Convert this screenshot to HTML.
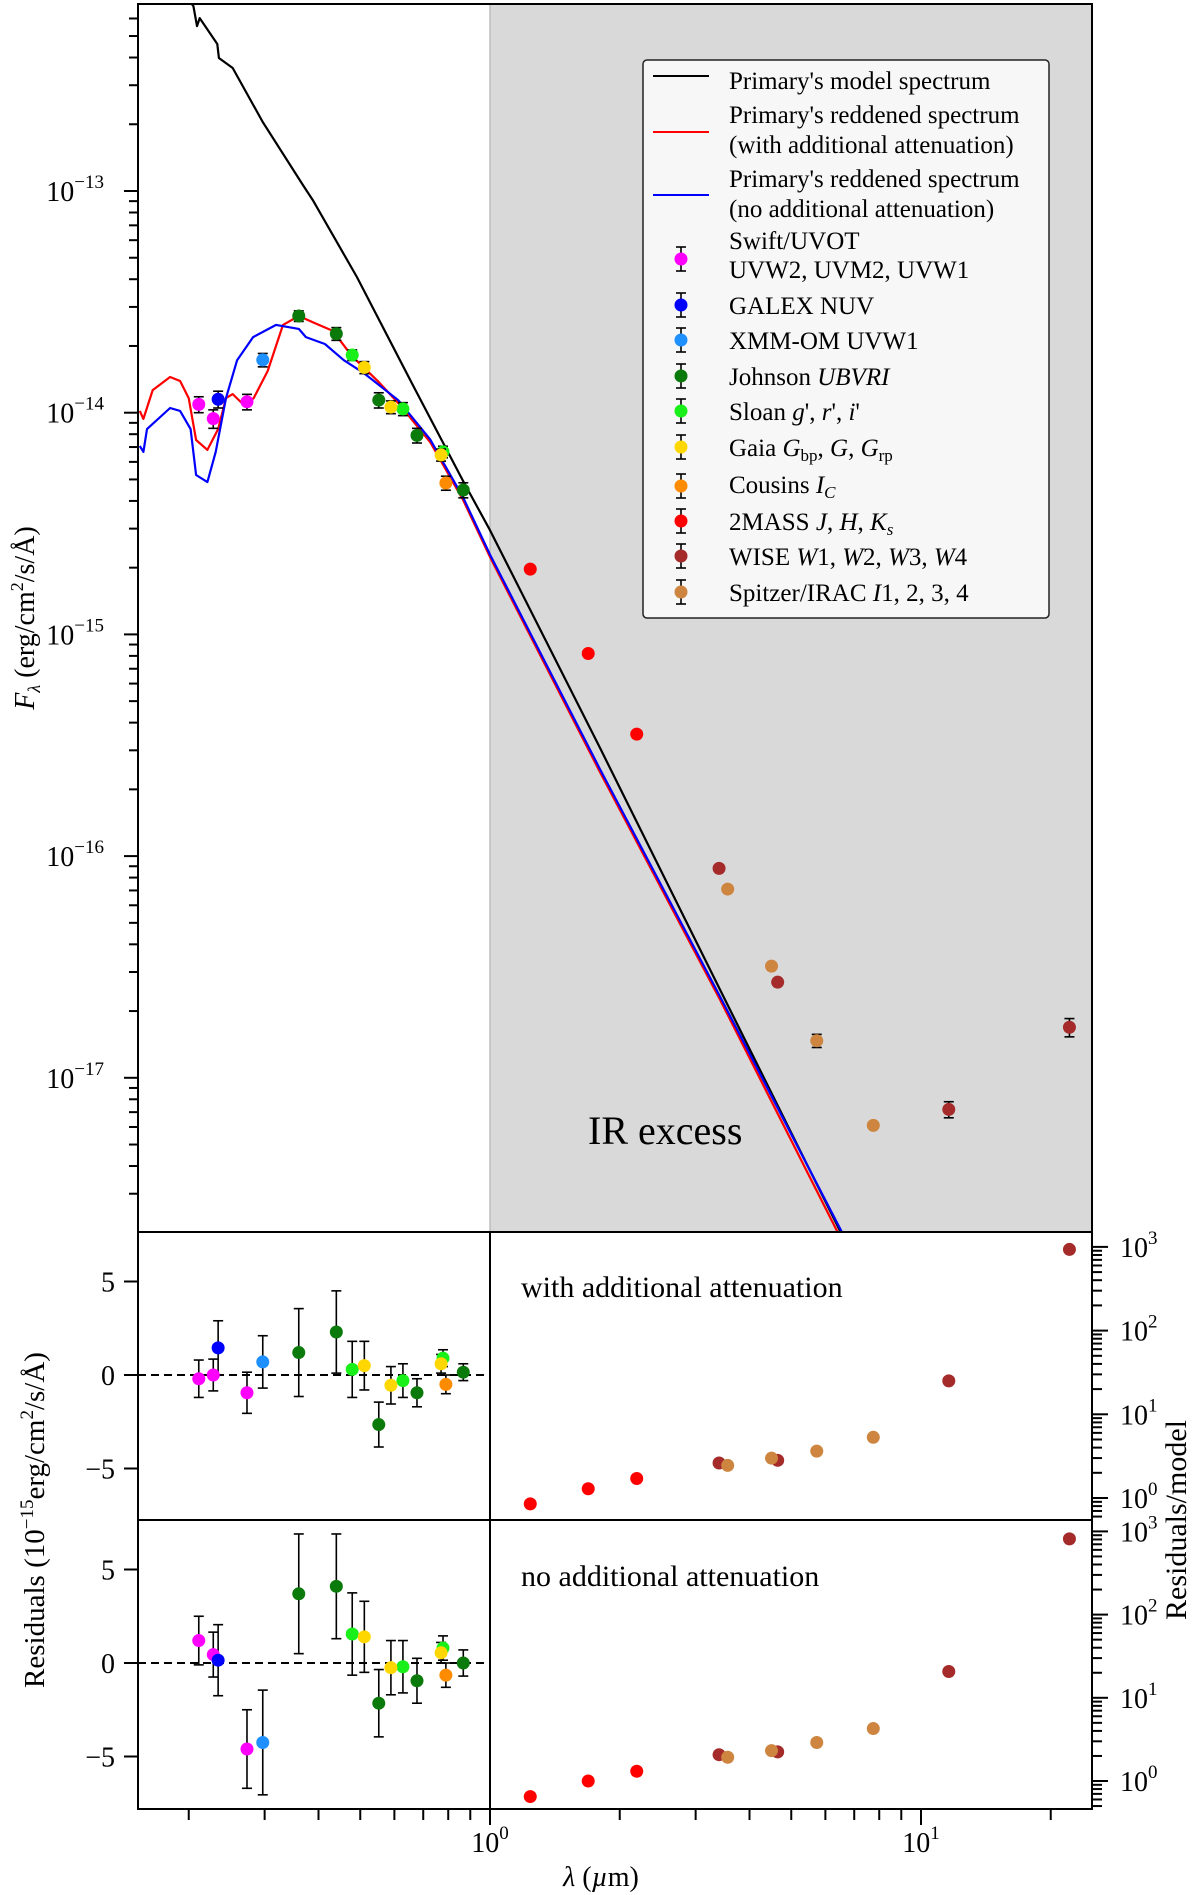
<!DOCTYPE html>
<html><head><meta charset="utf-8"><title>SED</title>
<style>
html,body{margin:0;padding:0;background:#fff;}
svg{display:block;font-family:"Liberation Serif",serif;}
</style></head>
<body>
<svg id="fig" width="1200" height="1895" viewBox="0 0 1200 1895" xmlns="http://www.w3.org/2000/svg">
<defs>
<clipPath id="clipTop"><rect x="138" y="4" width="954" height="1228"/></clipPath>
</defs>
<rect x="0" y="0" width="1200" height="1895" fill="#fff"/>
<rect x="490" y="4" width="602" height="1228" fill="#d9d9d9"/>
<line x1="490" y1="4" x2="490" y2="1232" stroke="#bdbdbd" stroke-width="1.5"/>
<g id="marks"></g>
<text x="588" y="1144" font-size="40">IR excess</text>
<text x="521" y="1297" font-size="30">with additional attenuation</text>
<text x="521" y="1586" font-size="30">no additional attenuation</text>
<text transform="translate(34,618) rotate(-90)" text-anchor="middle" font-size="28"><tspan font-style="italic">F</tspan><tspan font-style="italic" font-size="18" dy="6">λ</tspan><tspan dy="-6"> (erg/cm</tspan><tspan font-size="18" dy="-11">2</tspan><tspan dy="11">/s/Å)</tspan></text>
<text transform="translate(44,1520) rotate(-90)" text-anchor="middle" font-size="29">Residuals (10<tspan font-size="19" dy="-11">−15</tspan><tspan dy="11">erg/cm</tspan><tspan font-size="19" dy="-11">2</tspan><tspan dy="11">/s/Å)</tspan></text>
<text transform="translate(1186,1520) rotate(-90)" text-anchor="middle" font-size="30">Residuals/model</text>
<text x="601" y="1886" text-anchor="middle" font-size="28"><tspan font-style="italic">λ</tspan> (<tspan font-style="italic">µ</tspan>m)</text>
<g>
<rect x="643" y="60" width="406" height="558" rx="4" fill="#f7f7f7" stroke="#222" stroke-width="1.5"/>
<g font-size="25">
<line x1="653" y1="76" x2="709" y2="76" stroke="#000" stroke-width="2"/>
<text x="729" y="89">Primary's model spectrum</text>
<line x1="653" y1="132" x2="709" y2="132" stroke="#f00" stroke-width="2"/>
<text x="729" y="123">Primary's reddened spectrum</text>
<text x="729" y="153">(with additional attenuation)</text>
<line x1="653" y1="195" x2="709" y2="195" stroke="#00f" stroke-width="2"/>
<text x="729" y="187">Primary's reddened spectrum</text>
<text x="729" y="217">(no additional attenuation)</text>
<text x="729" y="249">Swift/UVOT</text>
<text x="729" y="278">UVW2, UVM2, UVW1</text>
<text x="729" y="314">GALEX NUV</text>
<text x="729" y="349">XMM-OM UVW1</text>
<text x="729" y="385">Johnson <tspan font-style="italic">UBVRI</tspan></text>
<text x="729" y="420">Sloan <tspan font-style="italic">g</tspan>', <tspan font-style="italic">r</tspan>', <tspan font-style="italic">i</tspan>'</text>
<text x="729" y="456">Gaia <tspan font-style="italic">G</tspan><tspan font-size="17" dy="5">bp</tspan><tspan dy="-5">, </tspan><tspan font-style="italic">G</tspan>, <tspan font-style="italic">G</tspan><tspan font-size="17" dy="5">rp</tspan></text>
<text x="729" y="493">Cousins <tspan font-style="italic">I</tspan><tspan font-style="italic" font-size="17" dy="5">C</tspan></text>
<text x="729" y="530">2MASS <tspan font-style="italic">J</tspan>, <tspan font-style="italic">H</tspan>, <tspan font-style="italic">K</tspan><tspan font-style="italic" font-size="17" dy="5">s</tspan></text>
<text x="729" y="565">WISE <tspan font-style="italic">W</tspan>1, <tspan font-style="italic">W</tspan>2, <tspan font-style="italic">W</tspan>3, <tspan font-style="italic">W</tspan>4</text>
<text x="729" y="601">Spitzer/IRAC <tspan font-style="italic">I</tspan>1, 2, 3, 4</text>
</g>
<g id="legendMarkers"></g>
</g>
</svg>
<script>
// ---- spectra (wavelength in micron, log10 flux) ----
const modelLam = [0.202,0.205,0.209,0.212,0.233,0.235,0.253,0.297,0.368,0.388,0.491,0.662,0.866,1.0,1.80,3.42,6.49,7.2];
const modelLogF = [-12.15,-12.166,-12.256,-12.220,-12.337,-12.40,-12.445,-12.689,-12.973,-13.041,-13.388,-13.875,-14.308,-14.53,-15.512,-16.604,-17.691,-17.87];
const redLam = [0.154,0.157,0.165,0.181,0.191,0.200,0.208,0.221,0.234,0.244,0.253,0.270,0.283,0.305,0.331,0.360,0.391,0.432,0.478,0.552,0.618,0.726,0.866,1.0,1.80,3.42,6.4];
const redLogF = [-13.992,-14.028,-13.898,-13.839,-13.857,-13.934,-14.123,-14.168,-14.074,-13.934,-13.916,-13.970,-13.934,-13.812,-13.604,-13.564,-13.595,-13.631,-13.744,-13.862,-13.965,-14.132,-14.394,-14.651,-15.621,-16.649,-17.695];
const blueLam = [0.154,0.157,0.160,0.181,0.191,0.202,0.208,0.221,0.231,0.244,0.259,0.282,0.319,0.360,0.374,0.414,0.458,0.510,0.612,0.726,0.866,1.0,1.80,3.42,6.55];
const blueLogF = [-14.15,-14.177,-14.074,-13.979,-13.992,-14.074,-14.281,-14.313,-14.177,-13.934,-13.763,-13.659,-13.604,-13.622,-13.659,-13.690,-13.763,-13.822,-13.943,-14.120,-14.382,-14.640,-15.608,-16.635,-17.695];

// ---- photometry ----
const swiftLam = [0.211,0.228,0.273];
const swiftFlux = [1.09e-14,9.4e-15,1.12e-14];
const swiftErr = [0.09e-14,0.09e-14,0.09e-14];
const swiftResA = [-0.2,0.0,-0.95];
const swiftResAErr = [1.0,0.85,1.1];
const swiftResB = [1.2,0.45,-4.6];
const swiftResBErr = [1.3,1.2,2.1];

const galexLam = [0.234];
const galexFlux = [1.15e-14];
const galexErr = [0.1e-14];
const galexResA = [1.45];
const galexResAErr = [1.45];
const galexResB = [0.15];
const galexResBErr = [1.9];

const xmmLam = [0.297];
const xmmFlux = [1.73e-14];
const xmmErr = [0.12e-14];
const xmmResA = [0.7];
const xmmResAErr = [1.4];
const xmmResB = [-4.25];
const xmmResBErr = [2.8];

const johnsonLam = [0.36,0.44,0.552,0.677,0.867];
const johnsonFlux = [2.73e-14,2.27e-14,1.14e-14,7.9e-15,4.48e-15];
const johnsonErr = [0.15e-14,0.15e-14,0.09e-14,0.06e-14,0.035e-14];
const johnsonResA = [1.2,2.3,-2.65,-0.95,0.15];
const johnsonResAErr = [2.35,2.2,1.2,0.75,0.45];
const johnsonResB = [3.7,4.1,-2.15,-0.95,0.0];
const johnsonResBErr = [3.2,2.8,1.8,1.2,0.7];

const sloanLam = [0.479,0.628,0.778];
const sloanFlux = [1.82e-14,1.04e-14,6.66e-15];
const sloanErr = [0.1e-14,0.07e-14,0.04e-14];
const sloanResA = [0.3,-0.3,0.9];
const sloanResAErr = [1.5,0.9,0.45];
const sloanResB = [1.55,-0.2,0.8];
const sloanResBErr = [2.2,1.4,0.65];

const gaiaLam = [0.511,0.589,0.77];
const gaiaFlux = [1.6e-14,1.06e-14,6.45e-15];
const gaiaErr = [0.1e-14,0.07e-14,0.04e-14];
const gaiaResA = [0.5,-0.55,0.6];
const gaiaResAErr = [1.3,1.0,0.5];
const gaiaResB = [1.4,-0.25,0.55];
const gaiaResBErr = [1.9,1.45,0.55];

const cousinsLam = [0.79];
const cousinsFlux = [4.82e-15];
const cousinsErr = [0.35e-15];
const cousinsResA = [-0.5];
const cousinsResAErr = [0.5];
const cousinsResB = [-0.65];
const cousinsResBErr = [0.65];

const tmassLam = [1.24,1.69,2.19];
const tmassFlux = [1.97e-15,8.2e-16,3.55e-16];
const tmassErr = [0,0,0];
const tmassRatioA = [0.85,1.29,1.71];
const tmassRatioB = [0.65,1.0,1.31];

const wiseLam = [3.4,4.65,11.6,22.1];
const wiseFlux = [8.8e-17,2.7e-17,7.2e-18,1.69e-17];
const wiseErr = [0,0,0.6e-18,1.6e-18];
const wiseRatioA = [2.62,2.82,25.1,933];
const wiseRatioB = [2.07,2.24,20.7,813];

const spitzerLam = [3.56,4.5,5.73,7.75];
const spitzerFlux = [7.1e-17,3.19e-17,1.47e-17,6.1e-18];
const spitzerErr = [0,0,1.0e-18,0];
const spitzerRatioA = [2.45,2.99,3.63,5.31];
const spitzerRatioB = [1.93,2.32,2.90,4.27];

// ticks
const fluxTickExps = [-13,-14,-15,-16,-17];
const resTicks = [-5,0,5];
const ratioTickExps = [0,1,2,3];
const xMajorTicks = [1,10];

// ---- axes ----
const X = l => 490 + 431*Math.log10(l);
const Ytop = f => 191 - 221.7*(Math.log10(f)+13);
const YtopLog = lf => 191 - 221.7*(lf+13);
const Ymid = v => 1375 - 18.7*v;
const Ybot = v => 1663 - 18.7*v;
const Rmid = r => 1498 - 83.7*Math.log10(r);
const Rbot = r => 1781 - 83.2*Math.log10(r);

const NS = "http://www.w3.org/2000/svg";
const marks = document.getElementById('marks');
function mk(tag, attrs, parent){
  const e = document.createElementNS(NS, tag);
  for (const k in attrs) e.setAttribute(k, attrs[k]);
  (parent||marks).appendChild(e);
  return e;
}

// spectra
const specG = mk('g', {'clip-path':'url(#clipTop)'});


function line(lams, lfs, color, name){
  const pts = lams.map((l,i)=> X(l).toFixed(1)+','+YtopLog(lfs[i]).toFixed(1)).join(' ');
  const p = mk('polyline', {points:pts, fill:'none', stroke:color, 'stroke-width':2.2, 'stroke-linejoin':'round'}, specG);
  
  
}
line(modelLam, modelLogF, '#000', 'model-spectrum-line');
line(redLam, redLogF, '#ff0000', 'reddened-with-attenuation-line');
line(blueLam, blueLogF, '#0000ff', 'reddened-no-attenuation-line');

// error bar + marker
function errbar(parent, x, y1, y2){
  const g = mk('g', {stroke:'#000', 'stroke-width':1.6}, parent);
  mk('line', {x1:x, y1:y1, x2:x, y2:y2}, g);
  mk('line', {x1:x-5, y1:y1, x2:x+5, y2:y1}, g);
  mk('line', {x1:x-5, y1:y2, x2:x+5, y2:y2}, g);
  return g;
}
function dot(parent, x, y, color, name){
  const c = mk('ellipse', {cx:x, cy:y, rx:6.5, ry:6.5, fill:color}, parent);
  
  
}

const sets = [
  {n:'swift', c:'#ff00ff', lam:swiftLam, f:swiftFlux, e:swiftErr, ra:swiftResA, rae:swiftResAErr, rb:swiftResB, rbe:swiftResBErr},
  {n:'galex', c:'#0000ff', lam:galexLam, f:galexFlux, e:galexErr, ra:galexResA, rae:galexResAErr, rb:galexResB, rbe:galexResBErr},
  {n:'xmm', c:'#1e90ff', lam:xmmLam, f:xmmFlux, e:xmmErr, ra:xmmResA, rae:xmmResAErr, rb:xmmResB, rbe:xmmResBErr},
  {n:'johnson', c:'#0a7a0a', lam:johnsonLam, f:johnsonFlux, e:johnsonErr, ra:johnsonResA, rae:johnsonResAErr, rb:johnsonResB, rbe:johnsonResBErr},
  {n:'sloan', c:'#19f019', lam:sloanLam, f:sloanFlux, e:sloanErr, ra:sloanResA, rae:sloanResAErr, rb:sloanResB, rbe:sloanResBErr},
  {n:'gaia', c:'#ffd700', lam:gaiaLam, f:gaiaFlux, e:gaiaErr, ra:gaiaResA, rae:gaiaResAErr, rb:gaiaResB, rbe:gaiaResBErr},
  {n:'cousins', c:'#ff8c00', lam:cousinsLam, f:cousinsFlux, e:cousinsErr, ra:cousinsResA, rae:cousinsResAErr, rb:cousinsResB, rbe:cousinsResBErr}
];
const irSets = [
  {n:'2mass', c:'#ff0000', lam:tmassLam, f:tmassFlux, e:tmassErr, ra:tmassRatioA, rb:tmassRatioB},
  {n:'wise', c:'#a52a2a', lam:wiseLam, f:wiseFlux, e:wiseErr, ra:wiseRatioA, rb:wiseRatioB},
  {n:'spitzer', c:'#cd853f', lam:spitzerLam, f:spitzerFlux, e:spitzerErr, ra:spitzerRatioA, rb:spitzerRatioB}
];

// residual zero lines
const z1 = mk('line', {x1:138, y1:Ymid(0), x2:490, y2:Ymid(0), stroke:'#000', 'stroke-width':2, 'stroke-dasharray':'8,5'});


const z2 = mk('line', {x1:138, y1:Ybot(0), x2:490, y2:Ybot(0), stroke:'#000', 'stroke-width':2, 'stroke-dasharray':'8,5'});



const ptsG = mk('g', {'clip-path':'url(#clipTop)'});


sets.concat(irSets).forEach(s=>{
  s.lam.forEach((l,i)=>{
    const x = X(l);
    if (s.e[i] > 0) errbar(ptsG, x, Ytop(s.f[i]+s.e[i]), Ytop(s.f[i]-s.e[i]));
    dot(ptsG, x, Ytop(s.f[i]), s.c, s.n+'-flux-point');
  });
});
const resG = mk('g', {});


sets.forEach(s=>{
  s.lam.forEach((l,i)=>{
    const x = X(l);
    errbar(resG, x, Ymid(s.ra[i]+s.rae[i]), Ymid(s.ra[i]-s.rae[i]));
    errbar(resG, x, Ybot(s.rb[i]+s.rbe[i]), Ybot(s.rb[i]-s.rbe[i]));
  });
});
sets.forEach(s=>{
  s.lam.forEach((l,i)=>{
    const x = X(l);
    dot(resG, x, Ymid(s.ra[i]), s.c, s.n+'-residual-with');
    dot(resG, x, Ybot(s.rb[i]), s.c, s.n+'-residual-no');
  });
});
irSets.forEach(s=>{
  s.lam.forEach((l,i)=>{
    const x = X(l);
    dot(resG, x, Rmid(s.ra[i]), s.c, s.n+'-ratio-with');
    dot(resG, x, Rbot(s.rb[i]), s.c, s.n+'-ratio-no');
  });
});

// frames
const axG = mk('g', {stroke:'#000', 'stroke-width':2, fill:'none'});


mk('rect', {x:138, y:4, width:954, height:1228}, axG);
mk('rect', {x:138, y:1232, width:954, height:288}, axG);
mk('rect', {x:138, y:1520, width:954, height:289}, axG);
mk('line', {x1:490, y1:1232, x2:490, y2:1809}, axG);

// top y ticks
const tickG = mk('g', {stroke:'#000', 'stroke-width':2});


for (let e=-18; e<=-12; e++){
  for (let m=1; m<10; m++){
    const y = Ytop(m*Math.pow(10,e));
    if (y < 4 || y > 1232) continue;
    mk('line', {x1:138, y1:y, x2:138-(m===1?14:9), y2:y}, tickG);
  }
}
fluxTickExps.forEach(e=>{
  const t = mk('text', {x:104, y:Ytop(Math.pow(10,e))+10, 'text-anchor':'end', 'font-size':28, stroke:'none'});
  
  
  t.innerHTML = '10<tspan font-size="19" dy="-13">−'+(-e)+'</tspan>';
});
// residual ticks
[Ymid, Ybot].forEach(Yf=>{
  resTicks.forEach(v=>{
    mk('line', {x1:138, y1:Yf(v), x2:124, y2:Yf(v)}, tickG);
    const t = mk('text', {x:115, y:Yf(v)+10, 'text-anchor':'end', 'font-size':28, stroke:'none'});
    
    
    t.textContent = v < 0 ? '−'+(-v) : String(v);
  });
});
// ratio ticks
[[Rmid,1232,1520],[Rbot,1520,1809]].forEach(([Rf,ya,yb])=>{
  for (let e=-1; e<=3; e++){
    for (let m=1; m<10; m++){
      const y = Rf(m*Math.pow(10,e));
      if (y < ya || y > yb) continue;
      mk('line', {x1:1092, y1:y, x2:1092+(m===1?16:10), y2:y}, tickG);
    }
  }
  ratioTickExps.forEach(e=>{
    const t = mk('text', {x:1120, y:Rf(Math.pow(10,e))+10, 'font-size':28, stroke:'none'});
    
    
    t.innerHTML = '10<tspan font-size="19" dy="-13">'+e+'</tspan>';
  });
});
// x ticks
for (let e=-1; e<=1; e++){
  for (let m=1; m<10; m++){
    const l = m*Math.pow(10,e);
    const x = X(l);
    if (x < 138 || x > 1092) continue;
    mk('line', {x1:x, y1:1809, x2:x, y2:1809+(m===1?16:11)}, tickG);
  }
}
xMajorTicks.forEach(l=>{
  const t = mk('text', {x:X(l), y:1852, 'text-anchor':'middle', 'font-size':28, stroke:'none'});
  
  
  t.innerHTML = '10<tspan font-size="19" dy="-13">'+Math.round(Math.log10(l))+'</tspan>';
});

// legend markers
const lm = document.getElementById('legendMarkers');
const legendRows = [259,305,340,376,411,447,486,521,556,592];
const legendColors = ['#ff00ff','#0000ff','#1e90ff','#0a7a0a','#19f019','#ffd700','#ff8c00','#ff0000','#a52a2a','#cd853f'];
legendRows.forEach((y,i)=>{
  errbar(lm, 681, y-12, y+12);
  dot(lm, 681, y, legendColors[i], 'legend-marker');
});
</script>
</body></html>
